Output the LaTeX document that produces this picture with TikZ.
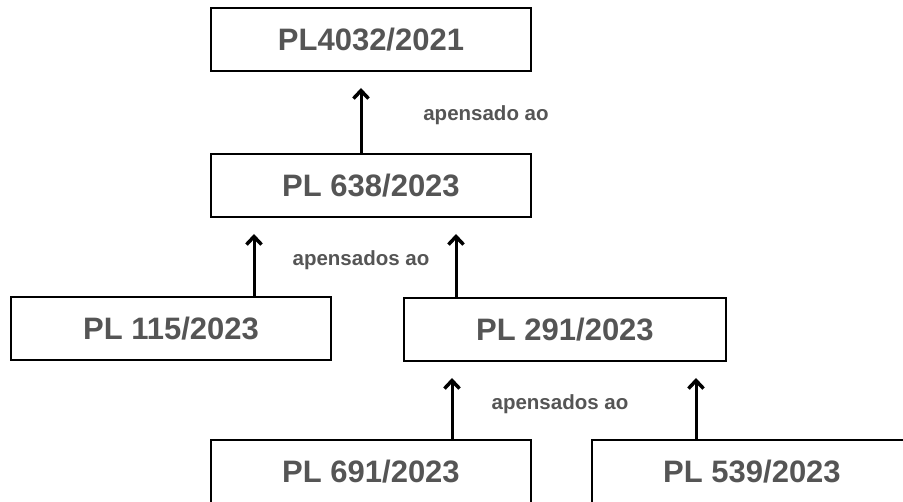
\documentclass[tikz,border=0pt]{standalone}
\usepackage{fontspec}
\setmainfont{Liberation Sans}
\usetikzlibrary{arrows.meta}
\definecolor{plgray}{RGB}{85,85,85}
\tikzset{
    %Define standard arrow tip
    >={Straight Barb[length=8pt,width=15pt,line width=3.5pt]},
    plbox/.style={draw, line width=2pt, minimum width=320pt, minimum height=63pt,
        inner sep=0pt, text=plgray, font=\fontsize{31}{31}\selectfont\bfseries},
    plnote/.style={text=plgray, font=\fontsize{20.5}{20.5}\selectfont\bfseries},
    link/.style={->, line width=3pt, shorten >=16pt}
}

\begin{document}
\begin{tikzpicture}[x=1pt,y=-1pt]
    \clip (0,0) rectangle (903,502);
    \useasboundingbox (0,0) rectangle (903,502);
    % boxes
    \node[plbox] (pl4032) at (371,39.5) {PL4032/2021};
    \node[plbox] (pl638) at (371,185.5) {PL 638/2023};
    \node[plbox] (pl115) at (171,328.5) {PL 115/2023};
    \node[plbox,minimum width=322pt] (pl291) at (565,329.5) {PL 291/2023};
    \node[plbox] (pl691) at (371,471.5) {PL 691/2023};
    \node[plbox] (pl539) at (752,471.5) {PL 539/2023};
    % arrow columns
    \coordinate (c1) at (361,0);
    \coordinate (c2) at (254,0);
    \coordinate (c3) at (456,0);
    \coordinate (c4) at (452,0);
    \coordinate (c5) at (696,0);
    \draw[link] (c1 |- pl638.north) -- (c1 |- pl4032.south);
    \draw[link] (c2 |- pl115.north) -- (c2 |- pl638.south);
    \draw[link] (c3 |- pl291.north) -- (c3 |- pl638.south);
    \draw[link] (c4 |- pl691.north) -- (c4 |- pl291.south);
    \draw[link] (c5 |- pl539.north) -- (c5 |- pl291.south);
    % labels
    \node[plnote] (n1) at (486,115) {apensado ao};
    \node[plnote] (n2) at (361,260) {apensados ao};
    \node[plnote] (n3) at (560,404) {apensados ao};
\end{tikzpicture}
\end{document}
